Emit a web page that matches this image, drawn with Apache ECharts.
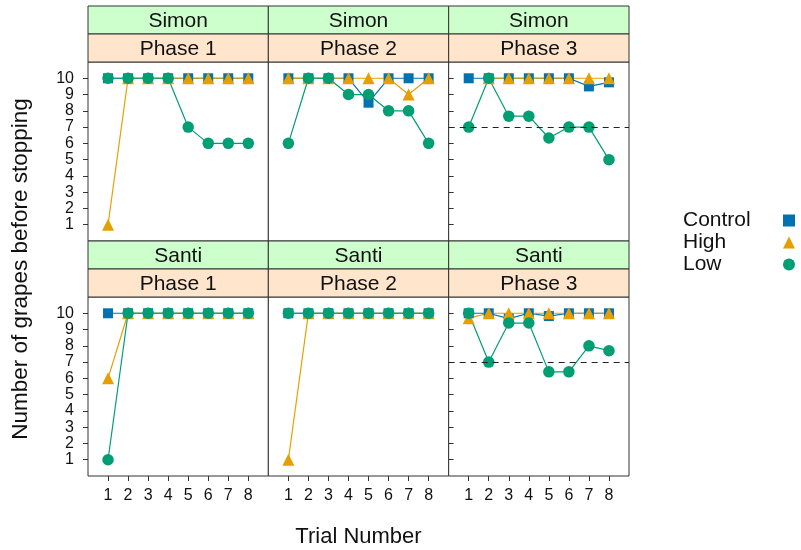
<!DOCTYPE html>
<html>
<head>
<meta charset="utf-8">
<script src="https://cdn.jsdelivr.net/npm/echarts@6/dist/echarts.min.js"></script>
<style>html,body{margin:0;padding:0;background:#fff;}#chart{width:801px;height:550px;}</style>
</head>
<body>
<div id="chart"></div>
<script>
// ---- data ----
const trials = [1, 2, 3, 4, 5, 6, 7, 8];
const yTicks = [1, 2, 3, 4, 5, 6, 7, 8, 9, 10];
const subjects = ['Simon', 'Santi'];
const phases = ['Phase 1', 'Phase 2', 'Phase 3'];
const conditions = ['Control', 'High', 'Low'];
const referenceLevel = 7; // dashed line in Phase 3

const simonP1Control = [10, 10, 10, 10, 10, 10, 10, 10];
const simonP1High    = [1, 10, 10, 10, 10, 10, 10, 10];
const simonP1Low     = [10, 10, 10, 10, 7, 6, 6, 6];
const simonP2Control = [10, 10, 10, 10, 8.5, 10, 10, 10];
const simonP2High    = [10, 10, 10, 10, 10, 10, 9, 10];
const simonP2Low     = [6, 10, 10, 9, 9, 8, 8, 6];
const simonP3Control = [10, 10, 10, 10, 10, 10, 9.5, 9.75];
const simonP3High    = [null, 10, 10, 10, 10, 10, 10, 10];
const simonP3Low     = [7, 10, 7.67, 7.67, 6.33, 7, 7, 5];

const santiP1Control = [10, 10, 10, 10, 10, 10, 10, 10];
const santiP1High    = [6, 10, 10, 10, 10, 10, 10, 10];
const santiP1Low     = [1, 10, 10, 10, 10, 10, 10, 10];
const santiP2Control = [10, 10, 10, 10, 10, 10, 10, 10];
const santiP2High    = [1, 10, 10, 10, 10, 10, 10, 10];
const santiP2Low     = [10, 10, 10, 10, 10, 10, 10, 10];
const santiP3Control = [10, 10, 9.67, 10, 9.83, 10, 10, 10];
const santiP3High    = [9.7, 10, 10, 10, 10, 10, 10, 10];
const santiP3Low     = [10, 7, 9.4, 9.4, 6.4, 6.4, 8, 7.7];

const panelData = [
  [[simonP1Control, simonP1High, simonP1Low], [simonP2Control, simonP2High, simonP2Low], [simonP3Control, simonP3High, simonP3Low]],
  [[santiP1Control, santiP1High, santiP1Low], [santiP2Control, santiP2High, santiP2Low], [santiP3Control, santiP3High, santiP3Low]]
];

// ---- styling / layout ----
const colors = ['#0072B2', '#E69F00', '#009E73'];
const symbols = ['rect', 'triangle', 'circle'];
const symbolSizes = [10, 12, 11.5];
const FONT = '"Liberation Sans", Arial, sans-serif';
const frameColor = '#333';

const plotLeft = 88, plotRight = 629;
const panelW = (plotRight - plotLeft) / 3;
const panelH = 179;
const stripH = 28;
const rowTops = [62, 297];
const stripColors = ['#ccffcc', '#ffe5cc'];

const grids = [], xAxes = [], yAxes = [], series = [], graphics = [];

for (let r = 0; r < 2; r++) {
  for (let c = 0; c < 3; c++) {
    const idx = r * 3 + c;
    const left = plotLeft + c * panelW;
    const top = rowTops[r];
    grids.push({ left: left, top: top, width: panelW, height: panelH, show: true,
      borderColor: frameColor, borderWidth: 1, backgroundColor: '#fff' });
    const bottomRow = r === 1;
    xAxes.push({
      gridIndex: idx, type: 'value', min: 0, max: 9, interval: 1,
      axisLine: { show: false }, splitLine: { show: false },
      axisTick: { show: bottomRow, customValues: trials, length: 5, lineStyle: { color: frameColor } },
      axisLabel: { show: bottomRow, customValues: trials, margin: 12, fontSize: 16, color: '#111', fontFamily: FONT }
    });
    yAxes.push({
      gridIndex: idx, type: 'value', min: 0, max: 11, interval: 1,
      position: c === 2 ? 'right' : 'left',
      axisLine: { show: false }, splitLine: { show: false },
      axisTick: { show: c !== 1, customValues: yTicks, length: 5, lineStyle: { color: frameColor } },
      axisLabel: { show: c === 0, customValues: yTicks, margin: 14, fontSize: 16, color: '#111', fontFamily: FONT }
    });
    const sets = panelData[r][c];
    for (let k = 0; k < 3; k++) {
      const s = {
        name: conditions[k], type: 'line', xAxisIndex: idx, yAxisIndex: idx,
        data: trials.map((t, i) => [t, sets[k][i] === null ? '-' : sets[k][i]]),
        symbol: symbols[k], symbolSize: symbolSizes[k], showSymbol: true,
        lineStyle: { color: colors[k], width: 1.2 },
        itemStyle: { color: colors[k] },
        connectNulls: false, animation: false, silent: true
      };
      if (c === 2 && k === 2) {
        s.markLine = {
          silent: true, symbol: 'none', label: { show: false },
          lineStyle: { color: '#222', type: [6, 5], width: 1.2 },
          data: [{ yAxis: referenceLevel }]
        };
      }
      series.push(s);
    }
    // strips
    const outerTop = top - 2 * stripH;
    graphics.push({ type: 'rect', shape: { x: left, y: outerTop, width: panelW, height: stripH },
      style: { fill: stripColors[0], stroke: frameColor, lineWidth: 1 }, z: 10 });
    graphics.push({ type: 'rect', shape: { x: left, y: outerTop + stripH, width: panelW, height: stripH },
      style: { fill: stripColors[1], stroke: frameColor, lineWidth: 1 }, z: 10 });
    graphics.push({ type: 'text', z: 11, style: { text: subjects[r], x: left + panelW / 2, y: outerTop + stripH / 2 + 1,
      textAlign: 'center', textVerticalAlign: 'middle', fill: '#111', font: '21px ' + FONT } });
    graphics.push({ type: 'text', z: 11, style: { text: phases[c], x: left + panelW / 2, y: outerTop + stripH * 1.5 + 1,
      textAlign: 'center', textVerticalAlign: 'middle', fill: '#111', font: '21px ' + FONT } });
  }
}

graphics.push({ type: 'text', z: 11, rotation: Math.PI / 2, x: 21, y: 269,
  style: { text: 'Number of grapes before stopping', x: 0, y: 0, textAlign: 'center', textVerticalAlign: 'middle',
    fill: '#111', font: '22.5px ' + FONT } });
graphics.push({ type: 'text', z: 11, style: { text: 'Trial Number', x: (plotLeft + plotRight) / 2, y: 537,
  textAlign: 'center', textVerticalAlign: 'middle', fill: '#111', font: '22px ' + FONT } });

const chart = echarts.init(document.getElementById('chart'), null, { renderer: 'canvas' });
chart.setOption({
  animation: false,
  backgroundColor: '#fff',
  grid: grids, xAxis: xAxes, yAxis: yAxes, series: series,
  legend: {
    orient: 'vertical', left: 678, top: 205, align: 'right',
    itemWidth: 12, itemHeight: 12, itemGap: 1, itemTextGap: 5,
    selectedMode: false,
    formatter: '{t|{name}}',
    textStyle: { fontSize: 21, fontFamily: FONT, color: '#111',
      rich: { t: { fontSize: 21, fontFamily: FONT, color: '#111', width: 95, align: 'left', lineHeight: 19 } } },
    data: conditions.map((n, k) => ({ name: n, icon: symbols[k], itemStyle: { color: colors[k] } }))
  },
  graphic: graphics
});
</script>
</body>
</html>
